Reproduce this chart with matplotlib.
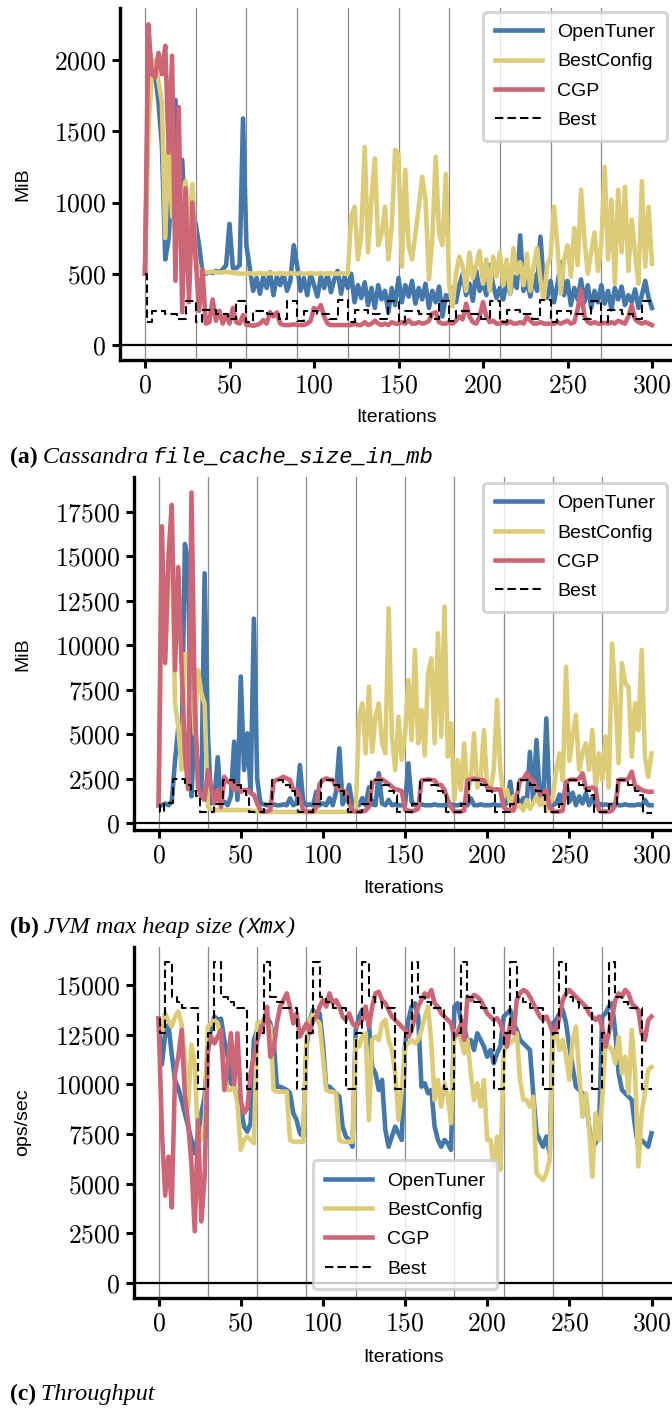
import numpy as np
import matplotlib
matplotlib.use("Agg")
import matplotlib.pyplot as plt
from matplotlib.ticker import FuncFormatter

plt.rcParams['mathtext.fontset'] = 'cm'
plt.rcParams['font.family'] = ['Liberation Sans', 'DejaVu Sans']

W, H = 672, 1411
BLUE, SAND, ROSE = '#4477AA', '#DDCC77', '#CC6677'

iters = np.arange(0, 301, 2)

# ---- (a) Cassandra file_cache_size_in_mb, MiB
tuner_a = [
    500, 1900, 1850, 1900, 1700, 1400, 600, 750, 1200, 1720, 1000, 1300, 800, 1000, 900,
    850, 700, 510, 500, 510, 505, 520, 510, 530, 560, 850, 540, 540, 560, 1590,
    700, 540, 380, 470, 360, 480, 400, 510, 350, 480, 420, 500, 380, 450, 700,
    560, 380, 470, 350, 500, 420, 340, 480, 400, 500, 370, 460, 520, 360, 480,
    400, 500, 300, 420, 330, 440, 280, 400, 260, 420, 320, 380, 230, 400, 280,
    470, 300, 420, 340, 450, 290, 400, 320, 430, 260, 380, 300, 410, 200, 350,
    330, 400, 300, 420, 500, 350, 430, 310, 520, 380, 440, 350, 560, 420, 330,
    400, 320, 450, 360, 480, 400, 770, 380, 450, 340, 500, 380, 760, 420, 330,
    450, 300, 420, 580, 350, 450, 280, 400, 320, 460, 300, 420, 260, 380, 300,
    420, 290, 380, 250, 400, 320, 410, 280, 350, 300, 390, 260, 350, 450, 330,
    260]
bestconfig_a = [
    500, 1500, 1900, 2000, 1850, 1700, 750, 1500, 900, 1000, 700, 1050, 1150, 800, 1130,
    600, 520, 515, 510, 510, 515, 510, 510, 510, 515, 510, 505, 505, 500, 500,
    500, 505, 500, 500, 505, 500, 500, 505, 500, 500, 505, 500, 500, 505, 500,
    500, 505, 500, 500, 505, 500, 500, 505, 500, 500, 505, 500, 500, 505, 500,
    500, 900, 970, 600, 780, 1390, 650, 1020, 1310, 700, 780, 970, 600, 830, 1370,
    1340, 550, 1230, 700, 600, 780, 970, 1180, 1020, 460, 740, 1320, 780, 700, 1200,
    420, 270, 500, 620, 550, 380, 650, 470, 560, 660, 430, 600, 380, 620, 480,
    650, 420, 600, 360, 680, 500, 580, 420, 640, 380, 560, 680, 450, 320, 560,
    620, 970, 700, 360, 600, 700, 480, 820, 560, 1090, 740, 500, 650, 790, 520,
    700, 1250, 600, 1020, 430, 1090, 650, 1110, 520, 880, 640, 430, 1150, 550, 970,
    570]
cgp_a = [
    500, 2250, 1900, 1880, 2050, 1900, 2100, 1350, 2030, 450, 1670, 230, 1100, 300, 1000,
    600, 240, 530, 150, 160, 320, 170, 240, 150, 210, 150, 260, 160, 150, 210,
    140, 140, 135, 140, 150, 175, 150, 230, 200, 230, 150, 140, 140, 140, 145,
    140, 140, 140, 150, 170, 260, 240, 280, 200, 150, 140, 140, 140, 140, 140,
    140, 140, 150, 140, 140, 160, 140, 150, 170, 150, 140, 150, 140, 160, 150,
    150, 160, 150, 175, 150, 150, 160, 150, 155, 170, 220, 230, 160, 150, 150,
    160, 150, 170, 200, 180, 290, 200, 160, 150, 200, 300, 200, 160, 170, 150,
    150, 160, 150, 165, 150, 150, 160, 150, 200, 170, 150, 150, 160, 150, 150,
    150, 150, 160, 150, 160, 170, 150, 160, 250, 390, 200, 160, 150, 160, 150,
    150, 155, 150, 160, 150, 170, 160, 150, 200, 280, 180, 160, 150, 160, 150,
    140]
best_a_x = [0, 1, 4, 12, 19, 24, 30, 34, 42, 49, 54, 60, 64, 72, 79, 84,
            90, 94, 102, 109, 114, 120, 124, 132, 139, 144, 150, 154, 162, 169, 174,
            180, 184, 192, 199, 204, 210, 214, 222, 229, 234, 240, 244, 252, 259, 264,
            270, 274, 282, 289, 294, 300]
best_a_y = [500, 160, 240, 220, 180, 310, 160, 245, 215, 180, 310, 160, 240, 220, 185, 310,
            165, 240, 215, 180, 315, 160, 245, 220, 180, 310, 160, 240, 215, 185, 310,
            165, 240, 220, 180, 310, 160, 245, 215, 180, 315, 160, 240, 220, 180, 310,
            160, 245, 215, 185, 310, 310]

# ---- (b) JVM max heap size (Xmx), MiB
tuner_b = [
    1000, 1000, 1100, 1000, 1200, 3500, 5400, 3900, 15700, 14600, 1500, 6000, 2500, 1500, 14050,
    5000, 1100, 1480, 3700, 1100, 1200, 1000, 1500, 4580, 1300, 8240, 2980, 5050, 1700, 11500,
    2500, 1100, 1050, 1000, 1000, 1050, 1000, 1000, 1050, 1000, 1390, 1000, 1100, 3260, 1200,
    1000, 1050, 1000, 1760, 1000, 1100, 1000, 1400, 1000, 1760, 4200, 1050, 1500, 2140, 1000,
    1000, 1000, 1400, 1000, 2000, 1050, 1000, 2800, 1100, 1000, 1300, 1000, 1050, 1000, 1000,
    1000, 3360, 1200, 1000, 1000, 1050, 1000, 1000, 1000, 1050, 1000, 1000, 1000, 1000, 1050,
    1000, 1000, 1050, 1000, 1000, 1390, 1000, 1000, 1050, 1000, 1000, 1000, 1050, 1000, 1000,
    1000, 1100, 2330, 1000, 1500, 1000, 1400, 1000, 4000, 1200, 4670, 1500, 1100, 5890, 1000,
    1000, 1100, 1600, 1000, 2300, 1200, 1700, 1000, 1500, 1100, 1670, 1000, 1400, 1000, 1100,
    1000, 1050, 1000, 1000, 1100, 1000, 1000, 1050, 1000, 1000, 1000, 1050, 1000, 1300, 1000,
    1000]
bestconfig_b = [
    1000, 15000, 9500, 14000, 16500, 6700, 5400, 3000, 9500, 9360, 8600, 5000, 8600, 7300, 6700,
    920, 730, 730, 720, 730, 720, 730, 720, 730, 730, 720, 730, 720, 700, 680,
    620, 620, 625, 620, 620, 625, 620, 620, 625, 620, 620, 625, 620, 620, 625,
    620, 620, 625, 620, 620, 625, 620, 620, 625, 620, 620, 625, 620, 620, 625,
    640, 5985, 6735, 3920, 7670, 4000, 5985, 6735, 4480, 3920, 12080, 4860, 2980, 5985, 3550,
    5000, 8050, 4670, 9740, 4480, 6360, 3800, 8420, 9270, 4480, 10680, 4860, 12180, 3730, 5610,
    1300, 3550, 1860, 4480, 1700, 2420, 5050, 2000, 2420, 5230, 2000, 1860, 3000, 6920, 2980,
    1500, 1860, 1100, 1500, 900, 1000, 700, 1300, 800, 1100, 1500, 1000, 1480, 700, 1100,
    1500, 2980, 3920, 2400, 8800, 3500, 4860, 6080, 2980, 3920, 4480, 3000, 5230, 1860, 3920,
    2420, 4860, 2000, 10110, 7110, 3360, 8990, 7860, 7670, 3730, 6735, 5230, 9740, 3730, 2600,
    3920]
cgp_b = [
    1000, 16700, 9000, 15000, 17900, 8600, 14400, 8800, 3900, 1900, 18600, 6700, 2000, 1500, 1300,
    2980, 2000, 1100, 1860, 900, 2600, 2330, 2230, 1860, 2140, 1760, 1860, 1860, 1670, 1580,
    1100, 730, 640, 650, 730, 2330, 2420, 2500, 2600, 2500, 2420, 1860, 1860, 1390, 730,
    640, 640, 640, 900, 2200, 2420, 2510, 2450, 2420, 2045, 1860, 1800, 1760, 1100, 700,
    640, 640, 650, 700, 900, 2230, 2400, 2510, 2450, 2330, 2200, 2045, 1900, 1860, 1800,
    750, 700, 650, 700, 800, 2400, 2420, 2450, 2420, 2400, 2140, 2140, 1860, 1300, 920,
    640, 640, 650, 700, 2400, 2450, 2500, 2450, 2420, 2400, 2000, 1950, 1860, 1900, 1860,
    900, 730, 730, 700, 1500, 2420, 2450, 2800, 2500, 2400, 1860, 1700, 1600, 1860, 900,
    640, 640, 650, 700, 2300, 2420, 2450, 2420, 2500, 2800, 1950, 1950, 2000, 1900, 700,
    640, 650, 640, 700, 1000, 2420, 2450, 2420, 2500, 2890, 2045, 2000, 1860, 1800, 1760,
    1760]
best_b_x = [0, 1, 3, 9, 16, 20, 23, 25,
            34, 39, 46, 50, 53, 55, 64, 69, 76, 80, 83, 85,
            94, 99, 106, 110, 113, 115, 124, 129, 136, 140, 143, 145,
            154, 159, 166, 170, 173, 175, 184, 189, 196, 200, 203, 205,
            214, 219, 226, 230, 233, 235, 244, 249, 256, 260, 263, 265,
            274, 279, 286, 290, 293, 295, 300]
best_b_y = [1000, 600, 1100, 2450, 2150, 1800, 1500, 600,
            1050, 2420, 2150, 1800, 1550, 620, 1050, 2420, 2150, 1800, 1550, 620,
            1050, 2420, 2150, 1800, 1550, 620, 1050, 2420, 2150, 1800, 1550, 620,
            1050, 2420, 2150, 1800, 1550, 620, 1050, 2420, 2150, 1800, 1550, 620,
            1050, 2420, 2150, 1800, 1550, 620, 1050, 2420, 2150, 1800, 1550, 620,
            1050, 2420, 2150, 1800, 1550, 560, 560]

# ---- (c) Throughput, ops/sec
tuner_c = [
    13300, 11000, 12500, 13000, 11500, 10200, 9800, 9200, 8540, 7870, 7200, 6530, 7500, 8540, 9380,
    11700, 12900, 13410, 13240, 13300, 12230, 11390, 10050, 9880, 9210, 8875, 7870, 7620, 8040, 12230,
    12740, 12900, 13240, 13410, 13070, 12230, 9880, 9880, 9800, 9715, 9550, 8540, 8200, 7535, 7370,
    11900, 13240, 13740, 13410, 13570, 12060, 9880, 9880, 9715, 9550, 9380, 7870, 7370, 7200, 6860,
    12740, 13410, 13740, 13570, 13070, 10890, 10550, 9715, 10220, 7700, 6860, 7370, 7870, 7535, 7200,
    12000, 13240, 13910, 14080, 13400, 9880, 10050, 9550, 9715, 7870, 7200, 6860, 7200, 7030, 6700,
    13910, 14080, 13240, 12900, 12060, 12230, 11730, 12570, 12230, 11900, 11390, 11730, 11060, 11560, 11900,
    13400, 13570, 13740, 13070, 12740, 12230, 12060, 11900, 11730, 9550, 7535, 7200, 6860, 7370, 6530,
    13070, 13240, 13570, 13740, 13070, 11900, 10890, 9880, 9715, 9550, 9380, 7870, 6860, 7030, 7535,
    13410, 13570, 13910, 14080, 12570, 10550, 9715, 9550, 9380, 9210, 7870, 6860, 7200, 7030, 6860,
    7535]
bestconfig_c = [
    13000, 12600, 13600, 13200, 12900, 13400, 13660, 13000, 11390, 8875, 12000, 11000, 7200, 7200, 7870,
    12900, 13070, 13240, 13070, 12230, 10550, 9715, 9715, 9880, 9050, 6700, 7200, 7370, 7200, 7030,
    13070, 13150, 13150, 13150, 12900, 9715, 9630, 9630, 9630, 9630, 7200, 7110, 7110, 7110, 7110,
    12230, 13240, 13570, 13240, 13070, 11390, 9715, 9630, 9630, 9550, 7200, 7110, 7110, 7110, 7110,
    12230, 11900, 12400, 12570, 8200, 12230, 12400, 12230, 13070, 13240, 12230, 11730, 10550, 8200, 9715,
    11900, 12060, 12230, 12060, 12230, 12740, 13400, 13910, 12060, 9210, 10220, 8875, 10050, 9380, 8040,
    12570, 12740, 12230, 11560, 12230, 10550, 9210, 10050, 8875, 10220, 7200, 7200, 5860, 7370, 5690,
    11390, 12570, 12060, 12230, 12570, 10220, 9210, 9210, 8875, 9380, 5520, 5350, 5180, 5520, 6190,
    12400, 12570, 11730, 12230, 11390, 10220, 12230, 12900, 10550, 8370, 9550, 7870, 5350, 8540, 7200,
    9210, 12230, 11900, 11730, 11060, 12400, 10550, 11390, 9550, 12740, 10550, 5860, 8540, 9550, 10720,
    10870]
cgp_c = [
    13320, 7700, 4400, 6360, 3800, 10550, 11390, 12740, 9500, 8040, 6000, 2600, 8200, 3100, 5300,
    11730, 12400, 12060, 12400, 12740, 9715, 11000, 12570, 10000, 12570, 9210, 8540, 8800, 10550, 11390,
    12230, 12740, 13070, 13900, 11390, 11730, 13070, 13910, 14240, 14580, 13910, 13070, 13570, 12400, 12740,
    13070, 12570, 13240, 13400, 13910, 14240, 13910, 14580, 14080, 14240, 13910, 13410, 13240, 13570, 13070,
    12900, 13070, 13240, 13910, 12900, 13910, 14580, 14660, 14240, 14080, 13740, 13400, 13240, 13070, 12900,
    12740, 12400, 12740, 13400, 13910, 14240, 14580, 14410, 14750, 14080, 13910, 13570, 13400, 13240, 13070,
    12400, 12570, 13070, 12230, 14410, 14240, 14500, 14410, 14240, 13910, 13570, 13400, 13240, 13330, 13070,
    12570, 11900, 13070, 12570, 14240, 14580, 14750, 14660, 14410, 14080, 13740, 13410, 13240, 13410, 13070,
    12570, 12740, 13410, 14240, 14580, 14750, 14580, 14410, 14240, 14080, 13910, 13570, 13410, 13240, 13410,
    12900, 11900, 12570, 13410, 14240, 14580, 14410, 14750, 14580, 14080, 13910, 13740, 12570, 12230, 13240,
    13410]
best_c_x = [0, 1, 4, 8, 11, 14, 24,
            30, 34, 38, 42, 46, 54, 60, 64, 68, 72, 76, 84,
            90, 94, 98, 102, 106, 114, 120, 124, 128, 132, 136, 144,
            150, 154, 158, 162, 166, 174, 180, 184, 188, 192, 196, 204,
            210, 214, 218, 222, 226, 234, 240, 244, 248, 252, 256, 264,
            270, 274, 278, 282, 286, 294, 300]
best_c_y = [13300, 12570, 16170, 14410, 14160, 13830, 9770,
            12570, 16170, 14410, 14160, 13830, 9770, 12570, 16170, 14410, 14160, 13830, 9770,
            12570, 16170, 14410, 14160, 13830, 9770, 12570, 16170, 14410, 14160, 13830, 9770,
            12570, 16170, 14410, 14160, 13830, 9770, 12570, 16170, 14410, 14160, 13830, 9770,
            12570, 16170, 14410, 14160, 13830, 9770, 12570, 16170, 14410, 14160, 13830, 9770,
            12570, 16170, 14410, 14160, 13830, 9770, 9770]

y_ticks_a = [0, 500, 1000, 1500, 2000]
y_ticks_b = [0, 2500, 5000, 7500, 10000, 12500, 15000, 17500]
y_ticks_c = [0, 2500, 5000, 7500, 10000, 12500, 15000]
x_ticks = [0, 50, 100, 150, 200, 250, 300]
series_names = ['OpenTuner', 'BestConfig', 'CGP', 'Best']

fig = plt.figure(figsize=(W / 100, H / 100), dpi=100)


def px_axes(left, top, right, bottom):
    return fig.add_axes([left / W, 1 - bottom / H, (right - left) / W, (bottom - top) / H])


def draw_panel(ax, tuner, bestconfig, cgp, bx, by, yticks, xlim, ylim):
    for v in range(0, 300, 30):
        ax.axvline(v, color='#8a8a8a', lw=0.9, zorder=0)
    ax.axhline(0, color='black', lw=1.6, zorder=1)
    ax.plot(iters, tuner, color=BLUE, lw=3.3, label=series_names[0], zorder=2)
    ax.plot(iters, bestconfig, color=SAND, lw=3.3, label=series_names[1], zorder=3)
    ax.plot(iters, cgp, color=ROSE, lw=3.3, label=series_names[2], zorder=4)
    ax.plot(bx, by, color='black', lw=1.5, dashes=(4, 2), drawstyle='steps-post',
            label=series_names[3], zorder=5)
    ax.set_xlim(*xlim)
    ax.set_ylim(*ylim)
    ax.set_xticks(x_ticks)
    ax.set_yticks(yticks)
    fmt = FuncFormatter(lambda v, p: '$%d$' % v)
    ax.xaxis.set_major_formatter(fmt)
    ax.yaxis.set_major_formatter(fmt)
    ax.tick_params(labelsize=18.5, length=6, width=2.2, pad=4)
    for s in ('top', 'right'):
        ax.spines[s].set_visible(False)
    for s in ('left', 'bottom'):
        ax.spines[s].set_linewidth(2.4)


def legend(ax, loc, anchor):
    lg = ax.legend(loc=loc, bbox_to_anchor=anchor, borderaxespad=0, fontsize=14,
                   handlelength=2.4, handletextpad=0.8, labelspacing=0.6,
                   borderpad=0.6, fancybox=True, framealpha=0.8)
    lg.get_frame().set_edgecolor('#cccccc')
    lg.get_frame().set_linewidth(2.2)


ax_a = px_axes(120, 8, 672, 360)
draw_panel(ax_a, tuner_a, bestconfig_a, cgp_a, best_a_x, best_a_y, y_ticks_a,
           ((120 - 145) / 1.69, (672 - 145) / 1.69),
           (-(360 - 345) / 0.1425, (345 - 8) / 0.1425))
legend(ax_a, 'upper right', (0.991, 0.989))

ax_b = px_axes(134, 477, 672, 830)
draw_panel(ax_b, tuner_b, bestconfig_b, cgp_b, best_b_x, best_b_y, y_ticks_b,
           ((134 - 158.6) / 1.643, (672 - 158.6) / 1.643),
           (-(830 - 823) / 0.01777, (823 - 477) / 0.01777))
legend(ax_b, 'upper right', (0.991, 0.983))

ax_c = px_axes(134, 947, 672, 1298)
draw_panel(ax_c, tuner_c, bestconfig_c, cgp_c, best_c_x, best_c_y, y_ticks_c,
           ((134 - 158.6) / 1.643, (672 - 158.6) / 1.643),
           (-(1298 - 1283) / 0.019867, (1283 - 947) / 0.019867))
legend(ax_c, 'lower center', (0.504, 0.025))

# axis labels
for y_mid, txt in ((184, 'MiB'), (654, 'MiB'), (1122, 'ops/sec')):
    fig.text(23 / W, 1 - y_mid / H, txt, rotation=90, ha='center', va='center', fontsize=14)
for x_mid, y_mid in ((397, 418), (404, 888), (404, 1357)):
    fig.text(x_mid / W, 1 - y_mid / H, 'Iterations', ha='center', va='center', fontsize=14)

# sub-captions made of pieces in different fonts
renderer = fig.canvas.get_renderer()
serif = 'Liberation Serif'
mono = 'Liberation Mono'


def caption(x_px, y_px, parts):
    x = x_px
    for s, kw in parts:
        t = fig.text(x / W, 1 - y_px / H, s, ha='left', va='baseline', **kw)
        x += t.get_window_extent(renderer).width


caption(10, 463, [('(a)', dict(family=serif, weight='bold', fontsize=17)),
                  ('\u2009Cassandra\u2009', dict(family=serif, style='italic', fontsize=17.5)),
                  ('file_cache_size_in_mb', dict(family=mono, style='italic', fontsize=16))])
caption(10, 933, [('(b)', dict(family=serif, weight='bold', fontsize=17)),
                  ('\u2009JVM max heap size (', dict(family=serif, style='italic', fontsize=17.5)),
                  ('Xmx', dict(family=mono, style='italic', fontsize=16)),
                  (')', dict(family=serif, style='italic', fontsize=17.5))])
caption(10, 1400, [('(c)', dict(family=serif, weight='bold', fontsize=17)),
                   ('\u2009Throughput', dict(family=serif, style='italic', fontsize=17.5))])

fig.savefig('out.png', dpi=100)
